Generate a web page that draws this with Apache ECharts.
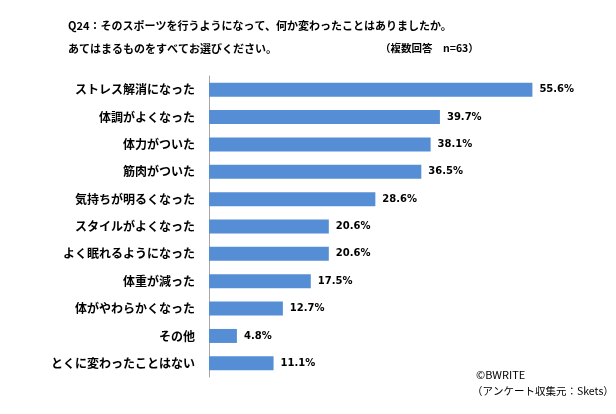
<!DOCTYPE html>
<html><head><meta charset="utf-8">
<script src="https://cdn.jsdelivr.net/npm/echarts@6/dist/echarts.min.js"></script>
<style>html,body{margin:0;padding:0;background:#fff}#c{width:616px;height:414px}</style>
</head><body><div id="c"></div>
<script>
var categories = ['ストレス解消になった','体調がよくなった','体力がついた','筋肉がついた','気持ちが明るくなった','スタイルがよくなった','よく眠れるようになった','体重が減った','体がやわらかくなった','その他','とくに変わったことはない'];
var values = [55.6, 39.7, 38.1, 36.5, 28.6, 20.6, 20.6, 17.5, 12.7, 4.8, 11.1];
var titleLine1 = 'Q24：そのスポーツを行うようになって、何か変わったことはありましたか。';
var titleLine2 = 'あてはまるものをすべてお選びください。';
var sampleNote = '（複数回答　n=63）';
var credit1 = '©BWRITE';
var credit2 = '（アンケート収集元：Skets）';

var jp = '"Noto Sans CJK JP", sans-serif';
var chart = echarts.init(document.getElementById('c'), null, {renderer:'canvas'});
chart.setOption({
  backgroundColor:'#fff',
  animation:false,
  graphic:[
    {type:'text', left:68, top:20, style:{text:titleLine1, font:'bold 11px '+jp, fill:'#000'}},
    {type:'text', left:68, top:43, style:{text:titleLine2, font:'bold 11px '+jp, fill:'#000'}},
    {type:'text', left:380, top:43, style:{text:sampleNote, font:'bold 10.5px '+jp, fill:'#000'}},
    {type:'text', left:476, top:369, style:{text:credit1, font:'11px '+jp, fill:'#000'}},
    {type:'text', left:472, top:386, style:{text:credit2, font:'10.5px '+jp, fill:'#000'}}
  ],
  grid:{left:209, top:76, width:349, height:301, containLabel:false},
  xAxis:{type:'value', min:0, max:60, show:false, splitLine:{show:false}},
  yAxis:{type:'category', data:categories, inverse:true,
    axisLine:{show:true, lineStyle:{color:'#a6a6a6', width:1}},
    axisTick:{show:false},
    axisLabel:{margin:14, color:'#000', fontSize:12, fontWeight:'bold', fontFamily:jp}
  },
  series:[{type:'bar', data:values, barWidth:14,
    itemStyle:{color:'#558ed5'},
    label:{show:true, position:'right', distance:7, color:'#000',
      fontFamily:'"DejaVu Sans", sans-serif', fontWeight:'bold', fontSize:10,
      formatter:function(p){return p.value.toFixed(1)+'%';}}
  }]
});
</script></body></html>
